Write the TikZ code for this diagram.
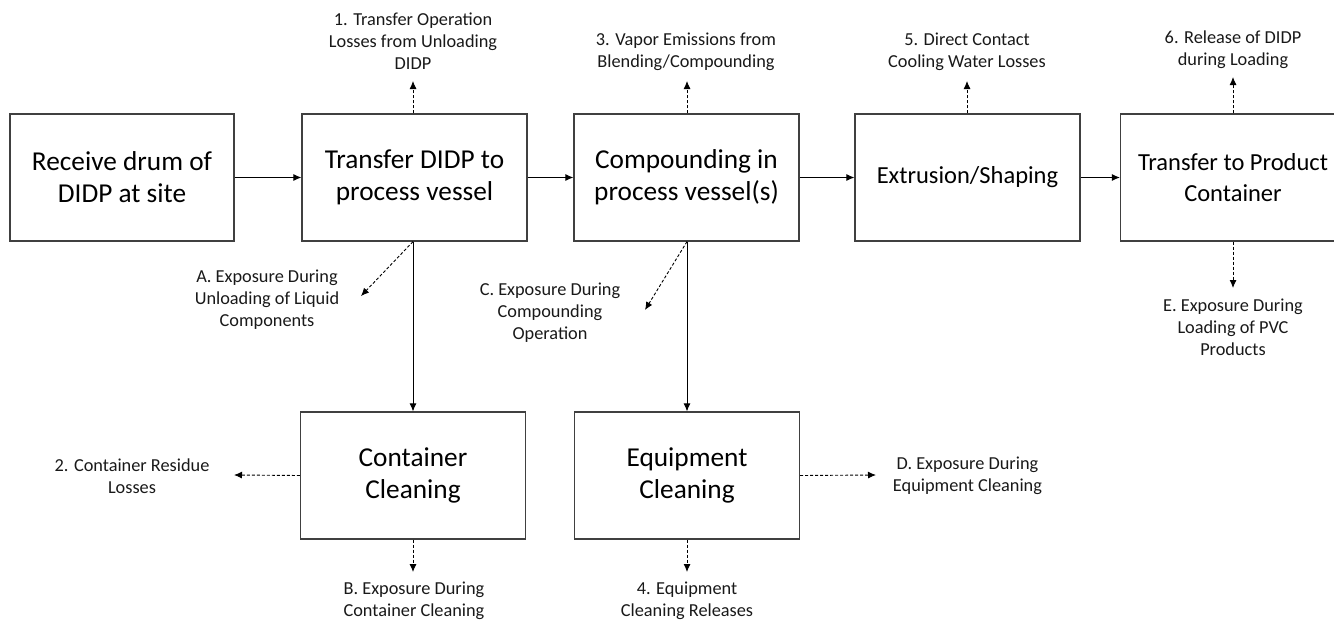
\documentclass[tikz,border=0pt]{standalone}
\usepackage{fontspec}
\setmainfont{Carlito}
\usetikzlibrary{arrows.meta}
\begin{document}
\begin{tikzpicture}[x=1pt,y=-1pt,
  procbox/.style={draw=black!75,line width=1.2pt,minimum width=225pt,minimum height=127pt,
    inner sep=0pt,align=center,font=\fontsize{27.3}{32}\selectfont},
  smallbox/.style={procbox,font=\fontsize{24.5}{31}\selectfont},
  lbl/.style={align=center,inner sep=0pt,font=\fontsize{18.3}{22}\selectfont,text=black!90},
  flow/.style={line width=0.9pt,-{Latex[length=8pt,width=7pt]}},
  loss/.style={line width=0.9pt,dash pattern=on 3pt off 2pt,-{Latex[length=8pt,width=7pt]}}]
\useasboundingbox (0,0) rectangle (1334,621);
\begin{scope}
\clip (0,0) rectangle (1334,621);
% main process line
\node[procbox,minimum width=224pt] (recv) at (122,177.5) {Receive drum of\\DIDP at site};
\node[procbox] (xfer) at (414.5,177.5) {Transfer DIDP to\\process vessel};
\node[procbox] (comp) at (686.5,177.5) {Compounding in\\process vessel(s)};
\node[smallbox] (extr) at (967.5,177.5) {Extrusion/Shaping};
\node[smallbox] (prod) at (1233,177.5) {Transfer to Product\\Container};
% cleaning steps
\node[procbox] (ccln) at (413,475.5) {Container\\Cleaning};
\node[procbox] (ecln) at (687,475.5) {Equipment\\Cleaning};
\end{scope}

% release / exposure labels
\node[lbl] (r1) at (413,41) {1. Transfer Operation\\Losses from Unloading\\DIDP};
\node[lbl] (r3) at (686,52) {3. Vapor Emissions from\\Blending/Compounding};
\node[lbl] (r5) at (967,52) {5. Direct Contact\\Cooling Water Losses};
\node[lbl] (r6) at (1233,50) {6. Release of DIDP\\during Loading};
\node[lbl] (eA) at (267,300) {A. Exposure During\\Unloading of Liquid\\Components};
\node[lbl] (eC) at (550,313) {C. Exposure During\\Compounding\\Operation};
\node[lbl] (eE) at (1233,327) {E. Exposure During\\Loading of PVC\\Products};
\node[lbl] (r2) at (132,476) {2. Container Residue\\Losses};
\node[lbl] (eB) at (414,601) {B. Exposure During\\Container Cleaning};
\node[lbl] (r4) at (687,601) {4. Equipment\\Cleaning Releases};
\node[lbl] (eD) at (967.5,476) {D. Exposure During\\Equipment Cleaning};

% arrow tips of the release / exposure connectors
\coordinate (t1) at (413,81);
\coordinate (t3) at (687,81);
\coordinate (t5) at (967,81);
\coordinate (t6) at (1233,77);
\coordinate (tA) at (361,296);
\coordinate (tC) at (645,310);
\coordinate (tE) at (1233,288);
\coordinate (t2) at (234,475);
\coordinate (tB) at (413,572);
\coordinate (t4) at (687,572);
\coordinate (tD) at (876,475);

% process flow
\draw[flow] (recv.east) -- (xfer.west);
\draw[flow] (xfer.east) -- (comp.west);
\draw[flow] (comp.east) -- (extr.west);
\draw[flow] (extr.east) -- (prod.west);
\draw[flow] (xfer.south -| ccln.north) -- (ccln.north);
\draw[flow] (comp.south -| ecln.north) -- (ecln.north);

% releases and exposures
\draw[loss] (xfer.north -| t1) -- (t1);
\draw[loss] (comp.north -| t3) -- (t3);
\draw[loss] (extr.north -| t5) -- (t5);
\draw[loss] (prod.north -| t6) -- (t6);
\draw[loss] (xfer.south -| t1) -- (tA);
\draw[loss] (comp.south -| t3) -- (tC);
\draw[loss] (prod.south -| tE) -- (tE);
\draw[loss] (ccln.west) -- (t2);
\draw[loss] (ccln.south) -- (tB);
\draw[loss] (ecln.south) -- (t4);
\draw[loss] (ecln.east) -- (tD);
\end{tikzpicture}
\end{document}
